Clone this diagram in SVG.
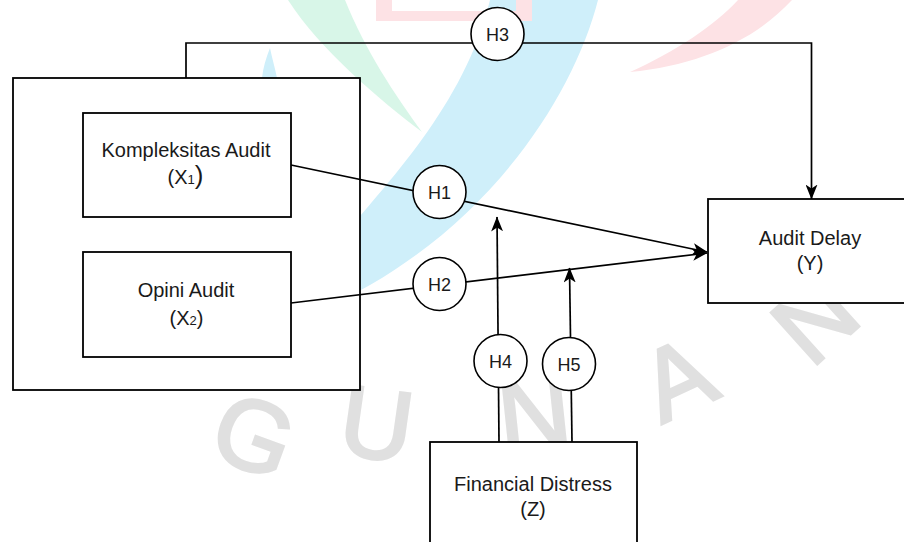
<svg xmlns="http://www.w3.org/2000/svg" width="904" height="542" viewBox="0 0 904 542">
  <style>
    .box { fill: #ffffff; stroke: #000000; stroke-width: 1.8; }
    .hc { fill: #ffffff; stroke: #000000; stroke-width: 1.6; }
    .edge { fill: none; stroke: #000000; stroke-width: 1.7; }
    .lbl { font-family: "Liberation Sans", Arial, sans-serif; font-size: 20px; fill: #1a1a1a; text-anchor: middle; }
    .hl { font-family: "Liberation Sans", Arial, sans-serif; font-size: 18px; fill: #1a1a1a; text-anchor: middle; }
    .wm { font-family: "Liberation Sans", Arial, sans-serif; font-size: 100px; fill: #e0e0e0; stroke: #e0e0e0; stroke-width: 3; text-anchor: middle; }
  </style>
  <defs>
    <marker id="arr" viewBox="0 0 15 12" refX="14.5" refY="6" markerWidth="15" markerHeight="12" orient="auto" markerUnits="userSpaceOnUse">
      <path d="M0,0 L15,6 L0,12 L4,6 Z" fill="#000000"/>
    </marker>
  </defs>
  <rect x="0" y="0" width="904" height="542" fill="#ffffff"/>

  <g id="watermark">
    <path d="M 288 0 L 345 0 C 365 50 395 95 422 132 C 380 100 320 50 288 0 Z" fill="#d8f6e8"/>
    <path d="M 490 0 L 598 0 C 575 90 500 210 370 285 C 358 292 345 297 335 300 L 340 240 C 385 185 465 105 490 0 Z" fill="#cfeffa"/>
    <path d="M 262 78 C 263 68 266 58 270 48 C 272 58 275 68 277 78 Z" fill="#cfeffa"/>
    <path d="M 376 0 H 532 V 21 H 376 Z M 392 0 V 11 H 516 V 0 Z" fill="#fde2e5" fill-rule="evenodd"/>
    <path d="M 630 72 C 675 52 715 25 738 0 L 792 0 C 755 40 700 65 630 72 Z" fill="#fde2e5"/>
    <text class="wm" transform="translate(242 468) rotate(20)">G</text>
    <text class="wm" transform="translate(372 458) rotate(8)">U</text>
    <text class="wm" transform="translate(538 448) rotate(-6)">N</text>
    <text class="wm" transform="translate(692 410) rotate(-25)">A</text>
    <text class="wm" transform="translate(838 345) rotate(-42)">N</text>
  </g>

  <g id="outer">
    <rect class="box" x="13" y="78" width="347" height="312"/>
  </g>

  <g id="connectors">
    <path class="edge" d="M186,78 V43 H811.5 V199" marker-end="url(#arr)"/>
    <path class="edge" d="M291,165 L707,252" marker-end="url(#arr)"/>
    <path class="edge" d="M291,303 L707,253" marker-end="url(#arr)"/>
    <path class="edge" d="M499,442 L497,217" marker-end="url(#arr)"/>
    <path class="edge" d="M572,442 L569.5,268" marker-end="url(#arr)"/>
  </g>

  <g id="x1">
    <rect class="box" x="83" y="113" width="208" height="104"/>
    <text class="lbl" x="186" y="157">Kompleksitas Audit</text>
    <text class="lbl" x="185.5" y="184">(X<tspan font-size="13">1</tspan><tspan font-size="26">)</tspan></text>
  </g>
  <g id="x2">
    <rect class="box" x="83" y="252" width="208" height="105"/>
    <text class="lbl" x="186" y="297">Opini Audit</text>
    <text class="lbl" x="186.5" y="325">(X<tspan font-size="13">2</tspan>)</text>
  </g>
  <g id="y">
    <rect class="box" x="708" y="199" width="210" height="104"/>
    <text class="lbl" x="810" y="245">Audit Delay</text>
    <text class="lbl" x="810" y="270">(Y)</text>
  </g>
  <g id="z">
    <rect class="box" x="430" y="442" width="207" height="120"/>
    <text class="lbl" x="533" y="491">Financial Distress</text>
    <text class="lbl" x="533" y="516">(Z)</text>
  </g>

  <g id="h1">
    <circle class="hc" cx="439.5" cy="192" r="26.5"/>
    <text class="hl" x="439.5" y="198.5">H1</text>
  </g>
  <g id="h2">
    <circle class="hc" cx="439.5" cy="284" r="26.5"/>
    <text class="hl" x="439.5" y="290.5">H2</text>
  </g>
  <g id="h3">
    <circle class="hc" cx="497.5" cy="34" r="26.5"/>
    <text class="hl" x="497.5" y="40.5">H3</text>
  </g>
  <g id="h4">
    <circle class="hc" cx="500.5" cy="361" r="26.5"/>
    <text class="hl" x="500.5" y="367.5">H4</text>
  </g>
  <g id="h5">
    <circle class="hc" cx="569" cy="364" r="26.5"/>
    <text class="hl" x="569" y="370.5">H5</text>
  </g>
</svg>
